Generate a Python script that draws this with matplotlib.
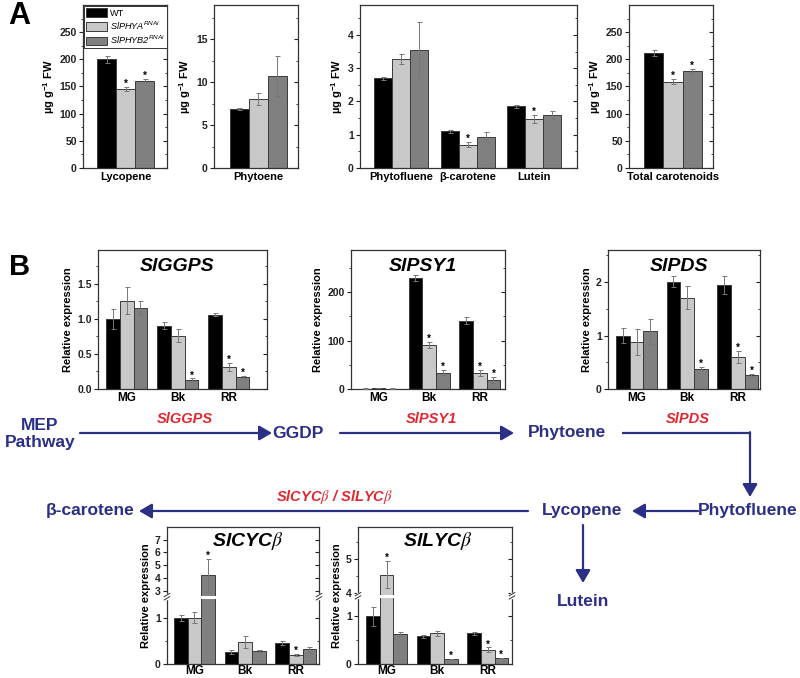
import numpy as np
import matplotlib
matplotlib.use('Agg')
import matplotlib.pyplot as plt
from matplotlib.patches import Patch
from matplotlib.ticker import FixedLocator, NullLocator
from matplotlib.lines import TICKLEFT

plt.rcParams['font.family'] = ['Liberation Sans', 'DejaVu Sans']
plt.rcParams['mathtext.default'] = 'regular'

# ------------------------------------------------------------------ data
genotype_labels = ['WT', 'SlPHYA$^{RNAi}$', 'SlPHYB2$^{RNAi}$']
bar_colors = ['#000000', '#C8C8C8', '#808080']

# Panel A (µg g-1 FW)
lyc_vals = [200, 145, 161]
lyc_err = [7, 4, 3]
lyc_sig = [0, 1, 1]

phyt_vals = [6.9, 8.1, 10.7]
phyt_err = [0.1, 0.7, 2.3]
phyt_sig = [0, 0, 0]

minor_cats = ['Phytofluene', 'β-carotene', 'Lutein']
minor_vals = [[2.70, 3.28, 3.55], [1.10, 0.70, 0.92], [1.85, 1.47, 1.60]]
minor_err = [[0.05, 0.15, 0.85], [0.04, 0.08, 0.15], [0.05, 0.12, 0.12]]
minor_sig = [[0, 0, 0], [0, 1, 0], [0, 1, 0]]

tot_vals = [212, 159, 178]
tot_err = [6, 5, 4]
tot_sig = [0, 1, 1]

# Panel B (relative expression)
stages = ['MG', 'Bk', 'RR']
ggps_vals = [[1.00, 1.26, 1.16], [0.90, 0.76, 0.13], [1.06, 0.31, 0.17]]
ggps_err = [[0.14, 0.19, 0.10], [0.05, 0.09, 0.02], [0.02, 0.06, 0.02]]
ggps_sig = [[0, 0, 0], [0, 0, 1], [0, 1, 1]]

psy_vals = [[1.0, 1.5, 1.0], [230, 91, 34], [141, 33, 19]]
psy_err = [[0.2, 0.3, 0.2], [6, 6, 5], [7, 7, 6]]
psy_sig = [[0, 0, 0], [0, 1, 1], [0, 1, 1]]

pds_vals = [[1.00, 0.88, 1.08], [2.01, 1.71, 0.38], [1.95, 0.60, 0.26]]
pds_err = [[0.14, 0.25, 0.23], [0.10, 0.21, 0.03], [0.17, 0.12, 0.02]]
pds_sig = [[0, 0, 0], [0, 0, 1], [0, 1, 1]]

cyc_vals = [[1.00, 1.00, 4.20], [0.26, 0.47, 0.28], [0.45, 0.20, 0.32]]
cyc_err = [[0.06, 0.12, 1.30], [0.04, 0.13, 0.02], [0.04, 0.02, 0.05]]
cyc_sig = [[0, 0, 1], [0, 0, 0], [0, 1, 0]]

lcy_vals = [[1.00, 4.55, 0.63], [0.58, 0.64, 0.10], [0.64, 0.30, 0.12]]
lcy_err = [[0.20, 0.40, 0.04], [0.03, 0.05, 0.01], [0.04, 0.05, 0.01]]
lcy_sig = [[0, 1, 0], [0, 0, 1], [0, 1, 1]]

# ------------------------------------------------------------------ style
NAVY = '#2B2F86'
RED = '#E0262E'
EDGE = '#3a3a3a'
SPACING = 3.7

W, H = 800.0, 678.0
fig = plt.figure(figsize=(8, 6.78), dpi=100)


def add_px_axes(x0, y0, x1, y1):
    return fig.add_axes([x0 / W, 1 - y1 / H, (x1 - x0) / W, (y1 - y0) / H])


def draw_groups(ax, vals, errs, sigs):
    vals = np.atleast_2d(vals)
    errs = np.atleast_2d(errs)
    sigs = np.atleast_2d(sigs)
    for g in range(vals.shape[0]):
        for i in range(3):
            x = g * SPACING + i
            v, e = vals[g, i], errs[g, i]
            ax.bar(x, v, width=1.0, color=bar_colors[i], edgecolor=EDGE,
                   linewidth=0.7, zorder=2)
            ax.errorbar(x, v, yerr=e, fmt='none', ecolor='#777777',
                        elinewidth=0.7, capsize=1.8, capthick=0.7, zorder=3)
            if sigs[g, i]:
                ax.annotate('*', (x, v + e), xytext=(0, -1.5),
                            textcoords='offset points', ha='center',
                            va='bottom', fontsize=7, fontweight='bold',
                            zorder=4)


def style_axes(ax, yticks, yminor, fs=7.5):
    for s in ax.spines.values():
        s.set_linewidth(0.9)
        s.set_color('#333333')
    ax.yaxis.set_major_locator(FixedLocator(yticks))
    ax.yaxis.set_minor_locator(FixedLocator(yminor))
    ax.tick_params(axis='x', length=0, pad=2)
    ax.tick_params(axis='y', which='both', direction='out', right=True,
                   labelsize=fs, pad=1.5, colors='#222222')
    ax.tick_params(axis='y', which='major', length=3, width=0.8)
    ax.tick_params(axis='y', which='minor', length=1.8, width=0.6)
    for lab in ax.get_yticklabels():
        lab.set_fontweight('bold')
    for t in ax.yaxis.get_major_ticks() + ax.yaxis.get_minor_ticks():
        t.tick2line.set_marker(TICKLEFT)


# ------------------------------------------------------------------ overlay (pathway)
ov = fig.add_axes([0, 0, 1, 1], zorder=-1)
ov.set_xlim(0, W)
ov.set_ylim(H, 0)
ov.axis('off')


def arrow(x0, y0, x1, y1):
    ov.annotate('', xy=(x1, y1), xytext=(x0, y0),
                arrowprops=dict(arrowstyle='-|>,head_length=0.55,head_width=0.32',
                                lw=1.6, color=NAVY, shrinkA=0, shrinkB=0,
                                mutation_scale=14))


tk = dict(color=NAVY, fontsize=12.5, fontweight='bold', ha='center', va='center')
rk = dict(color=RED, fontsize=10.5, fontweight='bold', style='italic', ha='center', va='center')
ov.text(40, 434, 'MEP\nPathway', linespacing=1.15, **tk)
ov.text(298, 433, 'GGDP', **tk)
ov.text(567, 433, 'Phytoene', **tk)
ov.text(748, 511, 'Phytofluene', **tk)
ov.text(582, 511, 'Lycopene', **tk)
ov.text(90, 511, 'β-carotene', **tk)
ov.text(583, 601, 'Lutein', **tk)
ov.text(185, 419, 'SlGGPS', **rk)
ov.text(431, 419, 'SlPSY1', **rk)
ov.text(688, 419, 'SlPDS', **rk)
ov.text(334, 497, r'SlCYC$\mathit{\beta}$ / SlLYC$\mathit{\beta}$', math_fontfamily='stix', **rk)
arrow(80, 433, 272, 433)
arrow(340, 433, 514, 433)
ov.plot([622, 750], [433, 433], color=NAVY, lw=1.6, solid_capstyle='butt')
arrow(750, 432.2, 750, 497)
arrow(698, 511, 632, 511)
arrow(528, 511, 139, 511)
arrow(583, 525, 583, 583)

fig.text(8 / W, 1 - 16 / H, 'A', fontsize=22, fontweight='bold', va='center')
fig.text(9 / W, 1 - 267 / H, 'B', fontsize=21, fontweight='bold', va='center')

# ------------------------------------------------------------------ panel A
ylab_A = 'µg g$^{-1}$ FW'


def panel_a(box, vals, errs, sigs, xlim, ylim, yt, ym, cats):
    ax = add_px_axes(*box)
    draw_groups(ax, vals, errs, sigs)
    ax.set_xlim(*xlim)
    ax.set_ylim(*ylim)
    style_axes(ax, yt, ym)
    ng = len(cats)
    ax.set_xticks([g * SPACING + 1 for g in range(ng)])
    ax.set_xticklabels(cats, fontsize=8, fontweight='bold')
    ax.tick_params(axis='x', pad=3)
    ax.set_ylabel(ylab_A, fontsize=8, fontweight='bold', labelpad=2)
    return ax


a1 = panel_a((83, 5, 167, 168), lyc_vals, lyc_err, lyc_sig, (-1.24, 3.18), (0, 300),
             [0, 50, 100, 150, 200, 250], np.arange(25, 300, 50), ['Lycopene'])
handles = [Patch(facecolor=c, edgecolor=EDGE, linewidth=0.7) for c in bar_colors]
leg = a1.legend(handles, genotype_labels, loc='upper left', bbox_to_anchor=(0.0, 1.0),
                borderaxespad=0.15, fontsize=6.6, handlelength=2.3, handleheight=1.1,
                handletextpad=0.25, labelspacing=0.2, borderpad=0.2,
                fancybox=False, edgecolor='#333333', framealpha=1)
leg.get_frame().set_linewidth(0.7)
for t in leg.get_texts()[1:]:
    t.set_fontstyle('italic')

panel_a((214, 5, 298, 168), phyt_vals, phyt_err, phyt_sig, (-1.34, 3.08), (0, 19),
        [0, 5, 10, 15], [2.5, 7.5, 12.5, 17.5], ['Phytoene'])
panel_a((360, 5, 577, 168), minor_vals, minor_err, minor_sig, (-1.28, 10.78), (0, 4.9),
        [0, 1, 2, 3, 4], [0.5, 1.5, 2.5, 3.5, 4.5], minor_cats)
panel_a((629, 5, 713, 168), tot_vals, tot_err, tot_sig, (-1.28, 3.07), (0, 300),
        [0, 50, 100, 150, 200, 250], np.arange(25, 300, 50), ['Total carotenoids'])

# ------------------------------------------------------------------ panel B


def panel_b(box, vals, errs, sigs, xlim, title, yt, ym, ylim=None, fmt=None,
            brk=None, tx=0.47, ty=0.88, xpad=2):
    ax = add_px_axes(*box)
    if brk is not None:
        b1, b2, k = brk

        def fwd(y):
            y = np.asarray(y, dtype=float)
            return np.where(y <= b1, y, np.where(y >= b2, b1 + (y - b2) * k, b1))

        def inv(f):
            f = np.asarray(f, dtype=float)
            return np.where(f <= b1, f, b2 + (f - b1) / k)
        ax.set_yscale('function', functions=(fwd, inv))
    draw_groups(ax, vals, errs, sigs)
    ax.set_xlim(*xlim)
    ax.set_ylim(*ylim)
    style_axes(ax, yt, ym)
    if fmt is not None:
        ax.set_yticklabels([fmt.format(v) for v in yt], fontweight='bold', fontsize=7.5)
    ax.set_xticks([g * SPACING + 1 for g in range(3)])
    ax.set_xticklabels(stages, fontsize=8.5, fontweight='bold')
    ax.tick_params(axis='x', pad=xpad)
    ax.set_ylabel('Relative expression', fontsize=8, fontweight='bold', labelpad=3)
    ax.text(tx, ty, title, transform=ax.transAxes, ha='center', va='center',
            fontsize=14, fontweight='bold', style='italic', math_fontfamily='stix')
    if brk is not None:
        b1, b2, k = brk
        top = b1 + (ylim[1] - b2) * k
        yb = b1 / top
        ax.axhline(b1, color='white', lw=2.2, zorder=2.4)
        for xs in (0, 1):
            ax.plot([xs, xs], [yb - 0.012, yb + 0.012], transform=ax.transAxes,
                    color='white', lw=2.5, clip_on=False, zorder=5)
            for dy in (-0.012, 0.012):
                ax.plot([xs - 0.018, xs + 0.018], [yb + dy - 0.012, yb + dy + 0.012],
                        transform=ax.transAxes, color='#333333', lw=0.7,
                        clip_on=False, zorder=6)
    return ax


panel_b((98, 250, 267, 389), ggps_vals, ggps_err, ggps_sig, (-1.08, 11.17), 'SlGGPS',
        [0, 0.5, 1.0, 1.5], [0.25, 0.75, 1.25, 1.75], ylim=(0, 1.98), fmt='{:.1f}')
panel_b((351, 250, 505, 389), psy_vals, psy_err, psy_sig, (-1.01, 10.25), 'SlPSY1',
        [0, 100, 200], [50, 150, 250], ylim=(0, 287))
panel_b((608, 250, 760, 389), pds_vals, pds_err, pds_sig, (-1.09, 10.03), 'SlPDS',
        [0, 1, 2], [0.5, 1.5, 2.5], ylim=(0, 2.6))
panel_b((167, 527, 319, 664), cyc_vals, cyc_err, cyc_sig, (-1.01, 10.10),
        r'SlCYC$\mathit{\beta}$', [0, 1, 3, 4, 5, 6, 7], [0.5],
        ylim=(0, 8.0), brk=(1.46, 2.53, 0.276), tx=0.53, ty=0.9, xpad=0.5)
panel_b((358, 527, 512, 664), lcy_vals, lcy_err, lcy_sig, (-1.085, 10.18),
        r'SlLYC$\mathit{\beta}$', [0, 1, 4, 5], [0.5, 4.5, 5.5],
        ylim=(0, 5.95), brk=(1.43, 3.93, 0.714), tx=0.52, ty=0.9, xpad=0.5)

fig.savefig('out.png', dpi=100)
